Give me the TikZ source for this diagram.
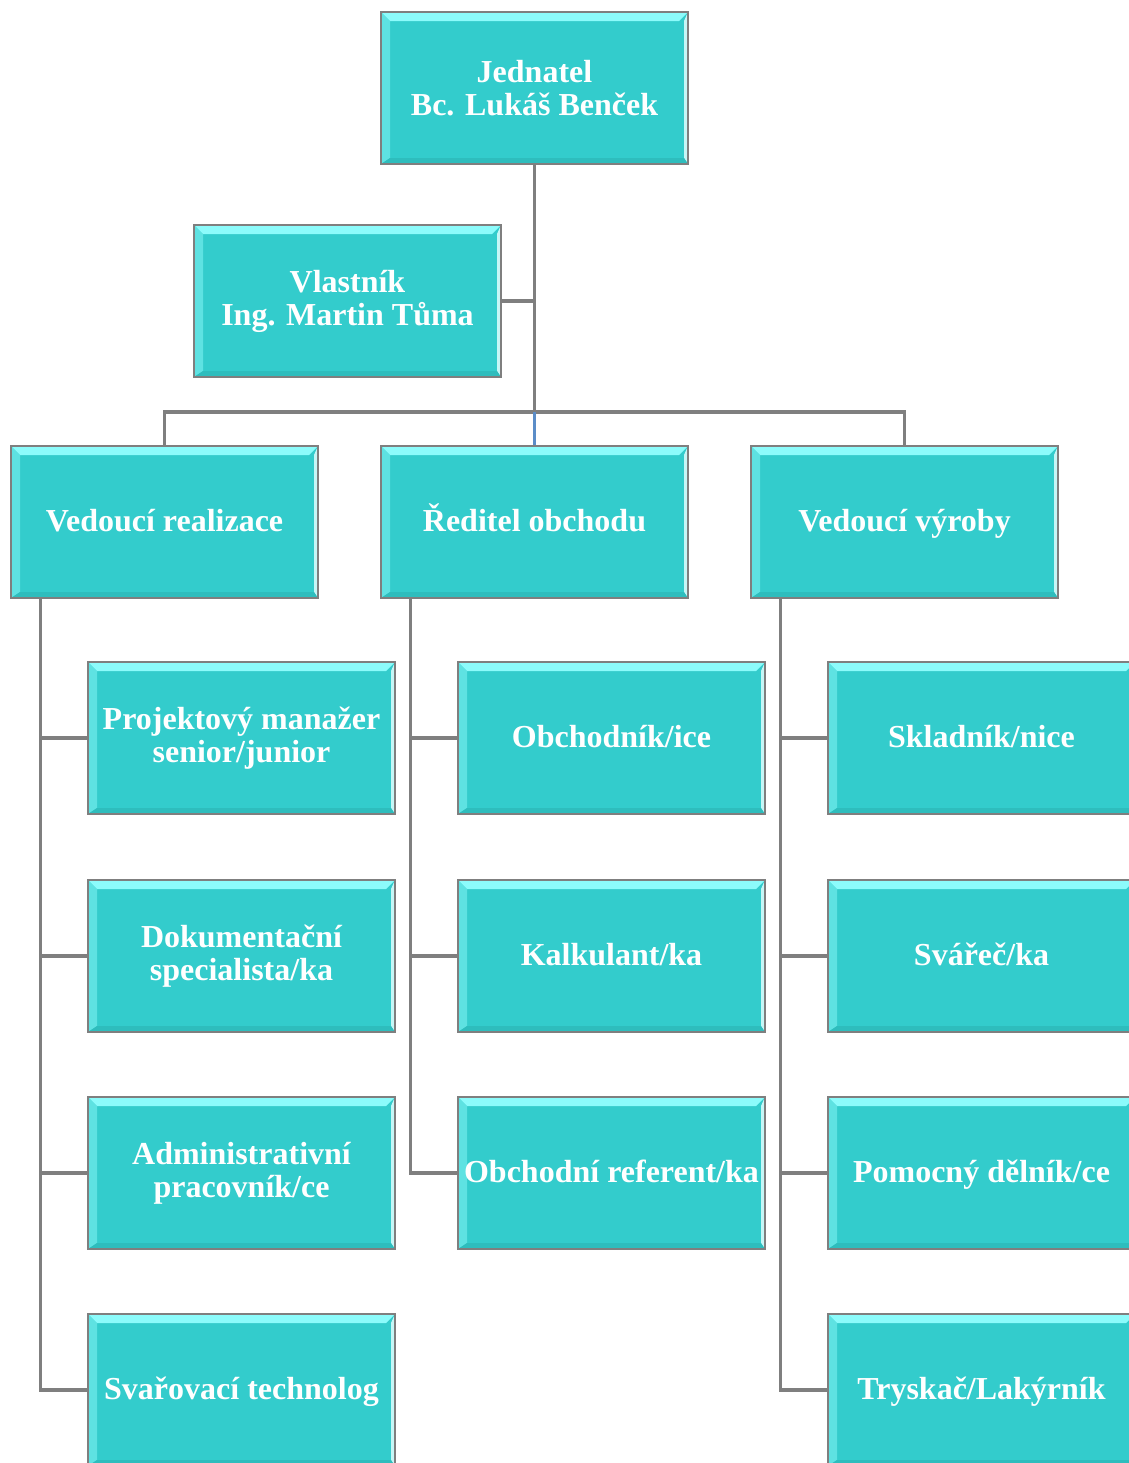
\documentclass[tikz,border=0pt]{standalone}
\usepackage{fontspec}
\setmainfont{Liberation Serif}
\usetikzlibrary{positioning,calc}

\definecolor{boxfill}{HTML}{33CCCC}
\definecolor{boxline}{HTML}{7F7F7F}
\definecolor{bevtop}{HTML}{8CFBFB}
\definecolor{bevleft}{HTML}{5EE2E2}
\definecolor{bevright}{HTML}{C6F6F6}
\definecolor{bevbot}{HTML}{2EBDBD}
\definecolor{linkblue}{HTML}{5B8DC8}
\newcommand\orgfont{\bfseries\fontsize{16}{16.5}\selectfont}

\begin{document}
\begin{tikzpicture}[
      x=0.5pt, y=-0.5pt,
      orgbox/.style={draw=boxline,line width=1.2pt,fill=boxfill,
        minimum width=153.5pt,minimum height=76pt,inner sep=0pt,
        align=center,text=white,font=\orgfont,
        path picture={
          \fill[bevtop] (path picture bounding box.north west) -- (path picture bounding box.north east)
            -- ([shift={(-4.5pt,-4.5pt)}]path picture bounding box.north east) -- ([shift={(4.5pt,-4.5pt)}]path picture bounding box.north west) -- cycle;
          \fill[bevleft] (path picture bounding box.north west) -- (path picture bounding box.south west)
            -- ([shift={(4.5pt,3pt)}]path picture bounding box.south west) -- ([shift={(4.5pt,-4.5pt)}]path picture bounding box.north west) -- cycle;
          \fill[bevright] (path picture bounding box.north east) -- (path picture bounding box.south east)
            -- ([shift={(-2pt,3pt)}]path picture bounding box.south east) -- ([shift={(-2pt,-4.5pt)}]path picture bounding box.north east) -- cycle;
          \fill[bevbot] (path picture bounding box.south west) -- (path picture bounding box.south east)
            -- ([shift={(-2pt,3pt)}]path picture bounding box.south east) -- ([shift={(4.5pt,3pt)}]path picture bounding box.south west) -- cycle;
        }},
      oneline/.style={orgbox,text height=12pt,text depth=3pt},
      conn/.style={draw=boxline,line width=1.6pt},
    ]
    \useasboundingbox (0,0) rectangle (1129,1463);
    \clip (0,0) rectangle (1129,1463);

    % top of the tree
    \node[orgbox] (jed) at (534.5,88) {Jednatel\\Bc. Lukáš Benček};
    \node[orgbox] (vla) at (347.5,301) {Vlastník\\Ing. Martin Tůma};

    % heads of departments
    \node[oneline] (real) at (164.5,522) {Vedoucí realizace};
    \node[oneline] (obch) at (534.5,522) {Ředitel obchodu};
    \node[oneline] (vyr)  at (904.5,522) {Vedoucí výroby};

    % realizace
    \node[orgbox] (real1) at (241.5,738)  {Projektový manažer\\senior/junior};
    \node[orgbox] (real2) at (241.5,956)  {Dokumentační\\specialista/ka};
    \node[orgbox] (real3) at (241.5,1173) {Administrativní\\pracovník/ce};
    \node[oneline] (real4) at (241.5,1390) {Svařovací technolog};

    % obchod
    \node[oneline] (obch1) at (611.5,738)  {Obchodník/ice};
    \node[oneline] (obch2) at (611.5,956)  {Kalkulant/ka};
    \node[oneline] (obch3) at (611.5,1173) {Obchodní referent/ka};

    % vyroba
    \node[oneline] (vyr1) at (981.5,738)  {Skladník/nice};
    \node[oneline] (vyr2) at (981.5,956)  {Svářeč/ka};
    \node[oneline] (vyr3) at (981.5,1173) {Pomocný dělník/ce};
    \node[oneline] (vyr4) at (981.5,1390) {Tryskač/Lakýrník};

    % connectors
    \coordinate (bus) at (534.5,412);
    \draw[conn] (jed.south) -- (bus);
    \draw[conn] (vla.east) -| (bus);
    \draw[conn] (real.north) |- (bus) -| (vyr.north);
    \draw[line width=1.5pt,linkblue] (bus) -- (obch.north);

    \coordinate (realbar) at ([xshift=15.5pt]real.south west);
    \coordinate (obchbar) at ([xshift=15.5pt]obch.south west);
    \coordinate (vyrbar)  at ([xshift=15.5pt]vyr.south west);
    \draw[conn] (realbar) |- (real4.west);
    \foreach \n in {real1,real2,real3} {
      \draw[conn] (realbar |- \n.west) -- (\n.west);
    }
    \draw[conn] (obchbar) |- (obch3.west);
    \foreach \n in {obch1,obch2} {
      \draw[conn] (obchbar |- \n.west) -- (\n.west);
    }
    \draw[conn] (vyrbar) |- (vyr4.west);
    \foreach \n in {vyr1,vyr2,vyr3} {
      \draw[conn] (vyrbar |- \n.west) -- (\n.west);
    }
  \end{tikzpicture}
\end{document}
